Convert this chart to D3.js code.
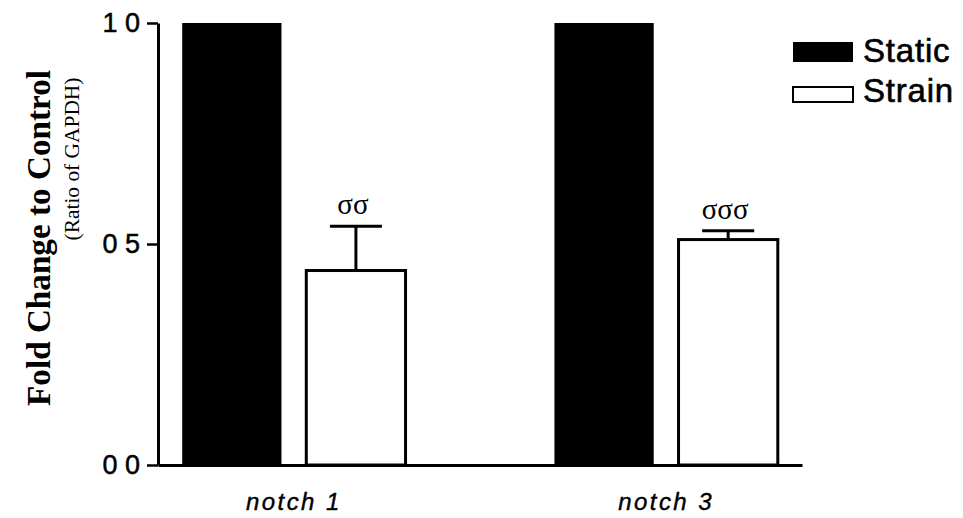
<!DOCTYPE html>
<html>
<head>
<meta charset="utf-8">
<script src="https://cdn.jsdelivr.net/npm/d3@7"></script>
<style>
  html, body { margin: 0; padding: 0; background: #fff; }
  svg { display: block; }
</style>
</head>
<body>
<svg id="chart" width="963" height="518"></svg>
<script>
// Gene groups and conditions
const groups = ["notch 1", "notch 3"];
const conditions = ["Static", "Strain"];

// Fold change relative to static control (ratio of GAPDH)
const staticValues = [1.0, 1.0];
const strainValues = [0.44, 0.51];
const strainErrors = [0.10, 0.02];
const significance = ["σσ", "σσσ"];

// Y axis ticks and their printed labels
const yTicks = [0, 0.5, 1.0];
const yTickLabels = ["0 0", "0 5", "1 0"];

const SANS = "'Liberation Sans', Arial, Helvetica, sans-serif";
const SERIF = "'Liberation Serif', 'Times New Roman', serif";

const svg = d3.select("#chart");

const y = d3.scaleLinear().domain([0, 1]).range([465, 23]);

const x0 = d3.scaleBand()
  .domain(groups)
  .range([158, 802])
  .paddingInner(0.4)
  .paddingOuter(0.065);

const x1 = d3.scaleBand()
  .domain(conditions)
  .range([0, x0.bandwidth()])
  .paddingInner(0.2)
  .paddingOuter(0);

const rows = groups.map((g, i) => ({
  group: g,
  bars: [
    { cond: "Static", value: staticValues[i] },
    { cond: "Strain", value: strainValues[i], err: strainErrors[i], sig: significance[i] }
  ]
}));

// Resize a text so that it spans the wanted length
function fitText(sel, size, wanted) {
  sel.attr("font-size", size);
  const len = sel.node().getComputedTextLength();
  if (len > 0) sel.attr("font-size", size * wanted / len);
}

// Bars
const gGroups = svg.append("g").selectAll("g")
  .data(rows)
  .join("g")
  .attr("transform", d => `translate(${x0(d.group)},0)`);

gGroups.selectAll("rect")
  .data(d => d.bars)
  .join("rect")
  .attr("x", d => x1(d.cond))
  .attr("y", d => y(d.value))
  .attr("width", x1.bandwidth())
  .attr("height", d => y(0) - y(d.value))
  .attr("fill", d => d.cond === "Static" ? "#000" : "#fff")
  .attr("stroke", "#000")
  .attr("stroke-width", d => d.cond === "Static" ? 0 : 3);

// Error bars (upper half) on strain bars
const errs = gGroups.selectAll("g.err")
  .data(d => d.bars.filter(b => b.err != null))
  .join("g")
  .attr("class", "err");

errs.append("line")
  .attr("x1", d => x1(d.cond) + x1.bandwidth() / 2)
  .attr("x2", d => x1(d.cond) + x1.bandwidth() / 2)
  .attr("y1", d => y(d.value))
  .attr("y2", d => y(d.value + d.err))
  .attr("stroke", "#000")
  .attr("stroke-width", 3);

errs.append("line")
  .attr("x1", d => x1(d.cond) + x1.bandwidth() / 2 - 26)
  .attr("x2", d => x1(d.cond) + x1.bandwidth() / 2 + 26)
  .attr("y1", d => y(d.value + d.err))
  .attr("y2", d => y(d.value + d.err))
  .attr("stroke", "#000")
  .attr("stroke-width", 3);

errs.append("text")
  .attr("x", d => x1(d.cond) + x1.bandwidth() / 2 - 3)
  .attr("y", d => y(d.value + d.err) - 12)
  .attr("text-anchor", "middle")
  .attr("font-family", SERIF)
  .attr("font-size", 29)
  .attr("fill", "#000")
  .text(d => d.sig);

// Y axis
const yAxis = svg.append("g")
  .attr("transform", "translate(158,0)")
  .call(d3.axisLeft(y)
    .tickValues(yTicks)
    .tickFormat((d, i) => yTickLabels[i])
    .tickSize(11)
    .tickSizeOuter(0)
    .tickPadding(7));
yAxis.select(".domain").attr("stroke", "#000").attr("stroke-width", 3);
yAxis.selectAll(".tick line").attr("stroke", "#000").attr("stroke-width", 2.5);
yAxis.selectAll(".tick text")
  .attr("font-family", SANS)
  .attr("font-size", 27)
  .attr("fill", "#000")
  .attr("stroke", "#000")
  .attr("stroke-width", 0.5)
  .attr("dy", "0.3em");

// X axis
const xAxis = svg.append("g")
  .attr("transform", `translate(0,${y(0)})`)
  .call(d3.axisBottom(x0).tickSize(0).tickSizeOuter(0));
xAxis.select(".domain").attr("stroke", "#000").attr("stroke-width", 3);
xAxis.selectAll(".tick text")
  .attr("font-family", SANS)
  .attr("font-style", "italic")
  .attr("font-size", 24)
  .attr("letter-spacing", "2.4px")
  .attr("fill", "#000")
  .attr("stroke", "#000")
  .attr("stroke-width", 0.4)
  .attr("dy", null)
  .attr("y", 45);

// Y axis titles
const title = svg.append("text")
  .attr("transform", "translate(50,238) rotate(-90)")
  .attr("text-anchor", "middle")
  .attr("font-family", SERIF)
  .attr("font-weight", "bold")
  .attr("fill", "#000")
  .text("Fold Change to Control");
fitText(title, 32, 336);

const subtitle = svg.append("text")
  .attr("transform", "translate(79,159) rotate(-90)")
  .attr("text-anchor", "middle")
  .attr("font-family", SERIF)
  .attr("fill", "#000")
  .text("(Ratio of GAPDH)");
fitText(subtitle, 21, 163);

// Legend
const legend = svg.append("g");
const legendItems = [
  { label: "Static", fill: "#000", sw: 0, y: 42, h: 20, base: 62 },
  { label: "Strain", fill: "#fff", sw: 2, y: 87, h: 15, base: 102 }
];
legendItems.forEach(item => {
  legend.append("rect")
    .attr("x", 793)
    .attr("y", item.y)
    .attr("width", 60)
    .attr("height", item.h)
    .attr("fill", item.fill)
    .attr("stroke", "#000")
    .attr("stroke-width", item.sw);
  legend.append("text")
    .attr("x", 863)
    .attr("y", item.base)
    .attr("font-family", SANS)
    .attr("font-size", 33)
    .attr("letter-spacing", "0.8px")
    .attr("fill", "#000")
    .attr("stroke", "#000")
    .attr("stroke-width", 0.6)
    .text(item.label);
});
</script>
</body>
</html>
